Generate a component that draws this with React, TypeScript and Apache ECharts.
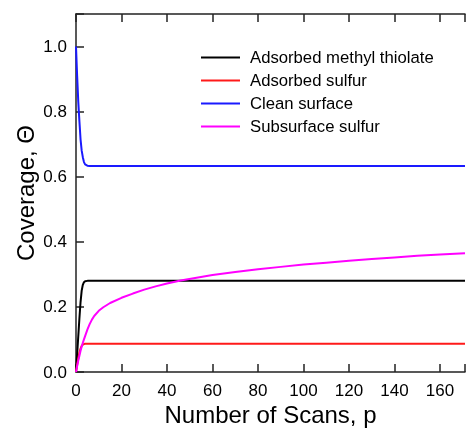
import React, { useEffect, useRef } from "react";
import * as echarts from "echarts";

const scans = [0, 0.5, 1, 1.5, 2, 2.5, 3, 3.5, 4, 5, 6, 7, 8, 10, 12, 15, 20, 25, 30, 35, 40, 46, 60, 70, 80, 90, 100, 110, 120, 130, 140, 150, 160, 171];
const methylThiolate = [0, 0.055, 0.11, 0.165, 0.215, 0.25, 0.268, 0.276, 0.279, 0.28, 0.28, 0.28, 0.28, 0.28, 0.28, 0.28, 0.28, 0.28, 0.28, 0.28, 0.28, 0.28, 0.28, 0.28, 0.28, 0.28, 0.28, 0.28, 0.28, 0.28, 0.28, 0.28, 0.28, 0.28];
const adsorbedSulfur = [0, 0.022, 0.042, 0.06, 0.072, 0.08, 0.084, 0.086, 0.087, 0.087, 0.087, 0.087, 0.087, 0.087, 0.087, 0.087, 0.087, 0.087, 0.087, 0.087, 0.087, 0.087, 0.087, 0.087, 0.087, 0.087, 0.087, 0.087, 0.087, 0.087, 0.087, 0.087, 0.087, 0.087];
const cleanSurface = [1.0, 0.91, 0.83, 0.77, 0.715, 0.68, 0.66, 0.645, 0.638, 0.634, 0.633, 0.633, 0.633, 0.633, 0.633, 0.633, 0.633, 0.633, 0.633, 0.633, 0.633, 0.633, 0.633, 0.633, 0.633, 0.633, 0.633, 0.633, 0.633, 0.633, 0.633, 0.633, 0.633, 0.633];
const subsurfaceSulfur = [0, 0.018, 0.035, 0.05, 0.065, 0.078, 0.09, 0.1, 0.11, 0.13, 0.147, 0.161, 0.172, 0.188, 0.199, 0.212, 0.228, 0.241, 0.253, 0.263, 0.272, 0.281, 0.298, 0.307, 0.316, 0.323, 0.33, 0.336, 0.342, 0.347, 0.352, 0.357, 0.361, 0.365];

const seriesNames = ["Adsorbed methyl thiolate", "Adsorbed sulfur", "Clean surface", "Subsurface sulfur"];
const seriesColors = ["#000000", "#ff1a1a", "#1a1aff", "#ff00ff"];
const seriesValues = [methylThiolate, adsorbedSulfur, cleanSurface, subsurfaceSulfur];

const FONT = "Liberation Sans, Arial, sans-serif";

export default function App() {
  const ref = useRef<HTMLDivElement>(null);
  useEffect(() => {
    if (!ref.current) return;
    const chart = echarts.init(ref.current, null, { renderer: "svg" });
    const axisLine = { show: true, lineStyle: { color: "#222", width: 1.5 } };
    const tick = { show: true, inside: true, length: 8, lineStyle: { color: "#222", width: 1.5 } };
    chart.setOption({
      animation: false,
      grid: { left: 76, right: 0, top: 14, bottom: 59, containLabel: false },
      legend: {
        orient: "vertical",
        left: 196,
        top: 44,
        itemWidth: 39,
        itemHeight: 2,
        itemGap: 6,
        icon: "rect",
        data: seriesNames,
        textStyle: { fontFamily: FONT, fontSize: 16.7, color: "#000", lineHeight: 17, padding: [0, 0, 0, 5] },
      },
      xAxis: [
        {
          type: "value",
          min: 0,
          max: 171,
          interval: 20,
          position: "bottom",
          name: "Number of Scans, p",
          nameLocation: "middle",
          nameGap: 30,
          nameMoveOverlap: false,
          nameTextStyle: { fontFamily: FONT, fontSize: 24, color: "#000" },
          axisLine,
          axisTick: tick,
          axisLabel: {
            fontFamily: FONT,
            fontSize: 17,
            color: "#000",
            margin: 10,
            formatter: (v: number) => (Math.abs(v % 20) < 1e-6 ? String(v) : ""),
          },
          splitLine: { show: false },
        },
        {
          type: "value",
          min: 0,
          max: 171,
          interval: 20,
          position: "top",
          axisLine,
          axisTick: tick,
          axisLabel: { show: false },
          splitLine: { show: false },
        },
      ],
      yAxis: {
        type: "value",
        min: 0,
        max: 1.1,
        interval: 0.2,
        name: "Coverage, Θ",
        nameLocation: "middle",
        nameGap: 39,
        nameMoveOverlap: false,
        nameTextStyle: { fontFamily: FONT, fontSize: 24, color: "#000" },
        axisLine,
        axisTick: tick,
        axisLabel: {
          fontFamily: FONT,
          fontSize: 17,
          color: "#000",
          margin: 9,
          formatter: (v: number) => {
            const r = Math.round(v * 10) / 10;
            return Math.abs(v - r) < 1e-6 && Math.round(r * 10) % 2 === 0 ? r.toFixed(1) : "";
          },
        },
        splitLine: { show: false },
      },
      series: seriesNames.map((name, i) => ({
        name,
        type: "line",
        xAxisIndex: 0,
        data: scans.map((x, j) => [x, seriesValues[i][j]]),
        showSymbol: false,
        symbol: "none",
        smooth: false,
        lineStyle: { color: seriesColors[i], width: 2 },
        itemStyle: { color: seriesColors[i] },
      })),
    });
    return () => chart.dispose();
  }, []);
  return <div ref={ref} style={{ position: "fixed", left: 0, top: 0, width: 468, height: 431 }} />;
}
